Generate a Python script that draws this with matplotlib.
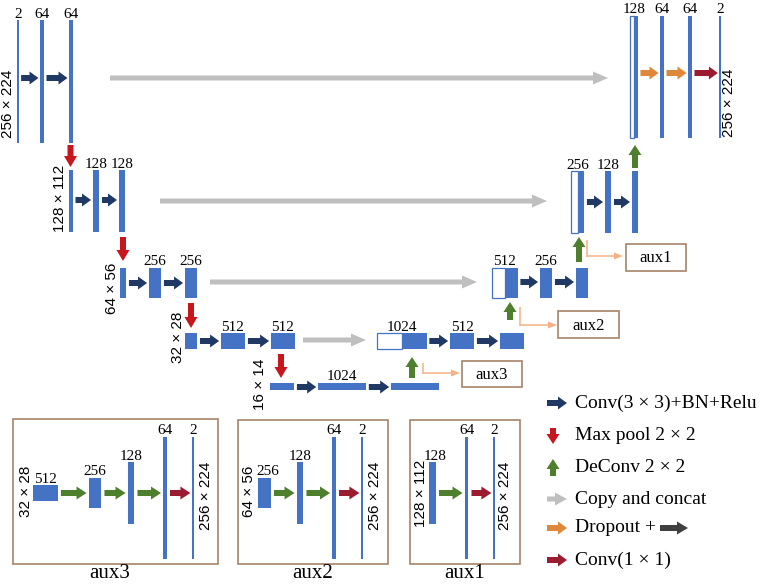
import matplotlib
matplotlib.use('Agg')
import matplotlib.pyplot as plt
from matplotlib.patches import Rectangle, FancyArrow

# ---- network description (channels per block, spatial height of the level) ----
enc_channels = [[2, 64, 64], [64, 128, 128], [128, 256, 256], [256, 512, 512], [512, 1024, 1024]]
enc_sizes = [256, 128, 64, 32, 16]
enc_size_labels = ['256 × 224', '128 × 112', '64 × 56', '32 × 28', '16 × 14']
enc_labels = [['2', '64', '64'], ['', '128', '128'], ['', '256', '256'], ['', '512', '512'], ['', '1024', '']]

# first block of every decoder level is a concat (copied half + upsampled half)
dec_channels = [[64, 64, 64, 2], [128, 128, 128], [256, 256, 256], [512, 512, 512]]
dec_sizes = [256, 128, 64, 32]
dec_labels = [['128', '64', '64', '2'], ['256', '128', ''], ['512', '256', ''], ['1024', '512', '']]
out_size_label = '256 × 224'

aux_names = ['aux3', 'aux2', 'aux1']
aux_channels = [[512, 256, 128, 64, 2], [256, 128, 64, 2], [128, 64, 2]]
aux_sizes = [[32, 64, 128, 256, 256], [64, 128, 256, 256], [128, 256, 256]]
aux_labels = [['512', '256', '128', '64', '2'], ['256', '128', '64', '2'], ['128', '64', '2']]
aux_in_labels = ['32 × 28', '64 × 56', '128 × 112']

legend_labels = ['Conv(3 × 3)+BN+Relu', 'Max pool 2 × 2', 'DeConv 2 × 2',
                 'Copy and concat', 'Dropout +', 'Conv(1 × 1)']

# ---- layout (pixel coordinates, y down) ----
enc_x = [[18, 42, 71], [71, 96, 122], [123, 155, 191], [191, 233, 283], [282, 342, 415]]
enc_y = [81.5, 201, 283, 341, 386.5]
enc_arrow_y = [78, 200, 283, 341, 387]
enc_size_pos = [(8, 104), (60, 198), (112, 288), (178, 337), (260, 384)]

dec_x = [[634, 662, 690, 720], [577.5, 608, 635], [505, 546, 582], [402, 462, 512]]
dec_y = [77, 202, 283, 341]
dec_arrow_y = [73, 202, 282, 341]

pool_arrows = [(70.5, 145, 167), (123, 237, 261), (191, 303, 328), (281, 354, 378)]
up_arrows = [(635, 168, 145), (579, 262, 237), (510, 320, 302), (412, 378, 357)]
copy_arrows = [(110, 608, 78), (160, 547, 201), (210, 477, 282), (303, 366, 340)]
connectors = [(587, 240, 256, 623), (520, 307, 325, 557), (423, 363, 373, 460)]
aux_small_boxes = [(626, 244, 686, 271), (558, 311, 619, 338), (462, 361, 522, 387)]

panel_boxes = [(13, 419, 218, 564), (238, 420, 388, 564), (410, 420, 520, 564)]
panel_title_x = [110, 313, 465]
aux_x = [[45.5, 95, 131, 165, 193], [264.5, 300, 334, 362], [432.5, 466.5, 494]]
aux_in_pos = [(26, 491), (249, 491), (421, 493)]
aux_out_pos = [(206, 496), (375, 496), (505, 496)]

legend_y = [403, 436, 467, 499, 528, 560]

# ---- styles ----
BLUE = '#4472c4'
NAVY = '#203864'
RED = '#c8161d'
GREEN = '#4e7f2c'
GRAY = '#bfbfbf'
ORANGE = '#e0883a'
MAROON = '#9b1b30'
DARK = '#404040'
BROWN = '#a68468'
PEACH = '#f4b183'
SERIF = 'Liberation Serif'
SANS = 'Liberation Sans'


def bar_w(ch):
    return 1.2 if ch <= 2 else 1 + ch / 21.5


def bar_h(size):
    return size * 0.477


fig = plt.figure(figsize=(7.61, 5.84), dpi=100)
ax = fig.add_axes([0, 0, 1, 1])
ax.set_xlim(0, 761)
ax.set_ylim(584, 0)
ax.axis('off')


def block(xc, yc, ch, size, hollow=False):
    w, h = bar_w(ch), bar_h(size)
    if hollow:
        ax.add_patch(Rectangle((xc - w / 2, yc - h / 2), w, h, facecolor='white',
                               edgecolor=BLUE, lw=0.9))
    else:
        ax.add_patch(Rectangle((xc - w / 2, yc - h / 2), w, h, facecolor=BLUE, lw=0))
    return xc - w / 2, xc + w / 2, yc - h / 2


def arrow(x0, y0, x1, y1, color, w=6, hw=13, hl=9):
    ax.add_patch(FancyArrow(x0, y0, x1 - x0, y1 - y0, width=w, head_width=hw, head_length=hl,
                            length_includes_head=True, color=color, lw=0))


def label(x, top, s):
    if s:
        ax.text(x, top - 2.5, s, ha='center', va='baseline', fontsize=11, family=SERIF)


def size_label(x, y, s):
    ax.text(x, y, s, rotation=90, ha='center', va='center', fontsize=11, family=SANS)


# encoder
for lvl in range(5):
    edges = []
    for i, ch in enumerate(enc_channels[lvl]):
        l, r, top = block(enc_x[lvl][i], enc_y[lvl], ch, enc_sizes[lvl])
        edges.append((l, r))
        label(enc_x[lvl][i], top, enc_labels[lvl][i])
    for i in range(len(edges) - 1):
        arrow(edges[i][1] + 2.5, enc_arrow_y[lvl], edges[i + 1][0] - 1.5, enc_arrow_y[lvl], NAVY)
    size_label(*enc_size_pos[lvl], enc_size_labels[lvl])

# decoder
for lvl in range(4):
    chs = dec_channels[lvl]
    split = dec_x[lvl][0]
    w0 = bar_w(chs[0])
    block(split - w0 / 2, dec_y[lvl], chs[0], dec_sizes[lvl], hollow=True)
    _, r, top = block(split + w0 / 2, dec_y[lvl], chs[0], dec_sizes[lvl])
    label(split, top, dec_labels[lvl][0])
    edges = [(split - w0, r)]
    for i in range(1, len(chs)):
        l, r, top = block(dec_x[lvl][i], dec_y[lvl], chs[i], dec_sizes[lvl])
        edges.append((l, r))
        label(dec_x[lvl][i], top, dec_labels[lvl][i])
    for i in range(len(edges) - 1):
        if lvl == 0:
            c = MAROON if i == len(edges) - 2 else ORANGE
        else:
            c = NAVY
        arrow(edges[i][1] + 2.5, dec_arrow_y[lvl], edges[i + 1][0] - 1.5, dec_arrow_y[lvl], c)
size_label(729, 103, out_size_label)

for x, y0, y1 in pool_arrows:
    arrow(x, y0, x, y1, RED, hl=11)
for x, y0, y1 in up_arrows:
    arrow(x, y0, x, y1, GREEN, hl=10)
for x0, x1, y in copy_arrows:
    arrow(x0, y, x1, y, GRAY, w=5, hw=13, hl=15)

# side outputs to the aux heads
for (x, y0, y1, x1), (bx0, by0, bx1, by1), name in zip(connectors, aux_small_boxes, ['aux1', 'aux2', 'aux3']):
    ax.plot([x, x], [y0, y1 + 0.7], color=PEACH, lw=1.1, solid_capstyle='butt')
    arrow(x, y1, x1, y1, PEACH, w=1.5, hw=7, hl=9)
    ax.add_patch(Rectangle((bx0, by0), bx1 - bx0, by1 - by0, facecolor='white',
                           edgecolor=BROWN, lw=1.2))
    ax.text((bx0 + bx1) / 2, (by0 + by1) / 2 + 1, name, ha='center', va='center',
            fontsize=12, family=SERIF)

# aux heads
for k in range(3):
    x0, y0, x1, y1 = panel_boxes[k]
    ax.add_patch(Rectangle((x0, y0), x1 - x0, y1 - y0, facecolor='none', edgecolor=BROWN, lw=1.2))
    ax.text(panel_title_x[k], 574, aux_names[k], ha='center', va='center', fontsize=15, family=SERIF)
    edges = []
    for i, ch in enumerate(aux_channels[k]):
        yc = 498 if aux_sizes[k][i] == 256 else 493
        l, r, top = block(aux_x[k][i], yc, ch, aux_sizes[k][i])
        edges.append((l, r))
        label(aux_x[k][i] + (3 if i == 0 and k > 0 else 0), top, aux_labels[k][i])
    for i in range(len(edges) - 1):
        c = MAROON if i == len(edges) - 2 else GREEN
        arrow(edges[i][1] + 3, 493, edges[i + 1][0] - 2, 493, c, hl=10)
    size_label(*aux_in_pos[k], aux_in_labels[k])
    size_label(*aux_out_pos[k], out_size_label)

# legend
lx0, lx1, tx = 547, 567, 575
arrow(lx0, legend_y[0], lx1, legend_y[0], NAVY)
arrow(553, legend_y[1] - 8, 553, legend_y[1] + 8, RED, hl=10)
arrow(553, legend_y[2] + 9, 553, legend_y[2] - 8, GREEN, hl=10)
arrow(lx0, legend_y[3], lx1, legend_y[3], GRAY, w=5, hl=12)
arrow(lx0, legend_y[4], lx1, legend_y[4], ORANGE)
arrow(lx0, legend_y[5], lx1, legend_y[5], MAROON)
arrow(660, legend_y[4], 688, legend_y[4], DARK, hl=11)
for y, s in zip(legend_y, legend_labels):
    ax.text(tx, y, s, ha='left', va='center', fontsize=14, family=SERIF)

fig.savefig('out.png', dpi=100)
